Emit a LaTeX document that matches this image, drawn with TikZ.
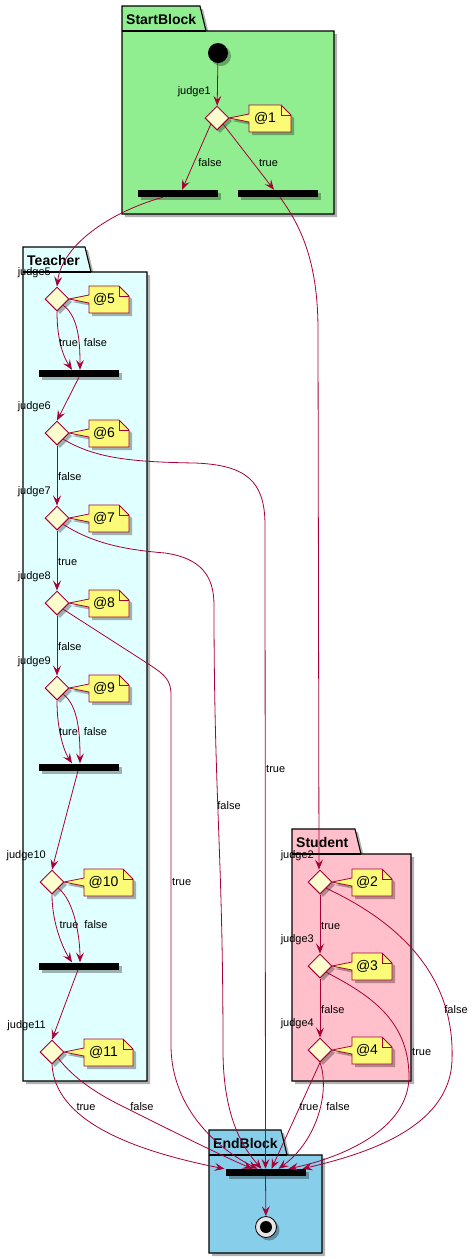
\documentclass[tikz,border=0pt]{standalone}
\usepackage{fontspec}
\setmainfont{Liberation Sans}
\usetikzlibrary{arrows.meta,shapes.geometric,shadows,calc}

\definecolor{umlred}{HTML}{A80036}
\definecolor{diamondfill}{HTML}{FEFECE}
\definecolor{notefill}{HTML}{FBFB77}
\definecolor{startgreen}{HTML}{90EE90}
\definecolor{teachercyan}{HTML}{E0FFFF}
\definecolor{studentpink}{HTML}{FFC0CB}
\definecolor{endblue}{HTML}{87CEEB}

\tikzset{
  umlshadow/.style={drop shadow={shadow xshift=3pt, shadow yshift=-3pt, fill=black, opacity=0.3}},
  pkg/.style={draw=black, line width=1.1pt},
  pkgtitle/.style={font=\fontsize{14}{16}\selectfont\bfseries, inner sep=0pt, anchor=west},
  decision/.style={shape=diamond, draw=umlred, line width=1pt, fill=diamondfill, minimum size=24pt, inner sep=0pt, umlshadow},
  note/.style={draw=umlred, line width=0.8pt, fill=notefill, umlshadow},
  notetext/.style={font=\fontsize{14}{16}\selectfont, inner sep=0pt},
  judgelabel/.style={font=\fontsize{11}{13}\selectfont, inner sep=0pt, anchor=east},
  flowlabel/.style={font=\fontsize{11}{13}\selectfont, inner sep=0pt},
  forkbar/.style={fill=black, minimum width=80pt, minimum height=7pt, inner sep=0pt, umlshadow},
  flow/.style={draw=umlred, line width=0.8pt, -{Stealth[length=10pt, width=8pt, inset=4pt]}},
}

% note with pointer: name, x, y of the judge, width, text
\newcommand{\judgenote}[5]{%
  \draw[note] (#2+32,#3-13) -- (#2+22+#4,#3-13) -- (#2+32+#4,#3-3) -- (#2+32+#4,#3+14)
    -- (#2+32,#3+14) -- (#2+32,#3+4) -- (#2+12,#3) -- (#2+32,#3-4) -- cycle;
  \draw[draw=umlred, line width=0.8pt] (#2+22+#4,#3-13) |- (#2+32+#4,#3-3);
  \node[notetext] (#1) at (#2+32+#4/2-5,#3+0.5) {#5};
}

\begin{document}
\begin{tikzpicture}[x=1pt, y=-1pt]
  \path[fill=white] (0,0) rectangle (474,1259);
  \useasboundingbox (0,0) rectangle (474,1259);

  \foreach \pkg/\pcol/\pl/\ptop/\pr/\pbot/\ptab in {StartBlock/startgreen/122/6/334/214/78,
      Teacher/teachercyan/23/247/147/1081/62, Student/studentpink/292/829/411/1081/63,
      EndBlock/endblue/209/1130/322/1253/72}{
    \draw[pkg, fill=\pcol, umlshadow] (\pl,\ptop) -- (\pl+\ptab,\ptop) -- (\pl+\ptab+6,\ptop+25)
      -- (\pr,\ptop+25) -- (\pr,\pbot) -- (\pl,\pbot) -- cycle;
    \draw[pkg] (\pl,\ptop+25) -- (\pl+\ptab+6,\ptop+25);
    \node[pkgtitle] (\pkg) at (\pl+4,\ptop+13) {\pkg};
  }

  \node[circle, fill=black, minimum size=20pt, inner sep=0pt, umlshadow] (start) at (218,53) {};
  \node[circle, draw=black, line width=0.8pt, fill=black!10, minimum size=21pt, inner sep=0pt, umlshadow,
    path picture={\fill[black] (path picture bounding box.center) circle (6);}] (stop) at (266,1227) {};

  \foreach \j/\x/\y/\w in {1/217/118/42, 5/57/299/40, 6/57/433/40, 7/57/518/40, 8/57/603/40,
      9/57/688/40, 10/52/882/49, 11/52/1052/49, 2/320/882/40, 3/320/966/40, 4/320/1050/40}{
    \judgenote{note\j}{\x}{\y}{\w}{@\j}
    \node[decision] (judge\j) at (\x,\y) {};
    \node[judgelabel] (judge\j-label) at (\x-6,\y-26) {judge\j};
  }

  \node[forkbar] (fork1f) at (178,193.5) {};
  \node[forkbar] (fork1t) at (278,193.5) {};
  \node[forkbar] (fork5) at (79,373.5) {};
  \node[forkbar] (fork9) at (79,767) {};
  \node[forkbar] (fork10) at (79,966) {};
  \node[forkbar] (forkE) at (265.5,1172.5) {};

  \draw[flow] (start) -- (judge1);
  \draw[flow] (judge1.south west) -- ($(fork1f.north)+(4,0)$);
  \draw[flow] (judge1.south east) -- ($(fork1t.north)+(-4,0)$);
  \draw[flow] ($(fork1f.south)+(-15,0)$) .. controls (110,212) and (62,245) .. (judge5.north);
  \draw[flow] ($(fork1t.south)+(2,0)$) .. controls (300,225) and (318,260) .. (318,330) -- ($(judge2.north)+(-1,0)$);

  \foreach \j/\f in {5/fork5, 9/fork9, 10/fork10}{
    \draw[flow] (judge\j.south) .. controls +(0,30) and +(-8,-12) .. ($(\f.north)+(-7,0)$);
    \draw[flow] (judge\j.south east) .. controls +(16,12) and +(0,-25) .. ($(\f.north)+(1,0)$);
  }
  \draw[flow] (fork5.south) -- (judge6.north);
  \draw[flow] ($(fork9.south)+(-1,0)$) -- (judge10.north);
  \draw[flow] ($(fork10.south)+(-1,0)$) -- (judge11.north);
  \draw[flow] (judge6.south) -- (judge7.north);
  \draw[flow] (judge7.south) -- (judge8.north);
  \draw[flow] (judge8.south) -- (judge9.north);
  \draw[flow] (judge2.south) -- (judge3.north);
  \draw[flow] (judge3.south) -- (judge4.north);

  \draw[flow] (judge6.south east) .. controls (95,458) and (130,462) .. (195,463)
    .. controls (245,465) and (265,480) .. (265,525) -- (forkE.north);
  \draw[flow] (judge7.south east) .. controls (95,545) and (130,550) .. (165,553)
    .. controls (200,558) and (214,575) .. (214,605) .. controls (214,800) and (223,850) .. (223,1050)
    .. controls (223,1120) and (245,1150) .. ($(forkE.north)+(-4,0)$);
  \draw[flow] (judge8.south east) -- (150,665) .. controls (165,675) and (171,680) .. (171,695)
    -- (171,1045) .. controls (171,1110) and (220,1150) .. ($(forkE.north)+(-8,0)$);
  \draw[flow] (judge11.south) .. controls (55,1120) and (130,1150) .. ($(forkE.north)+(-41,0)$);
  \draw[flow] (judge11.south east) .. controls (75,1080) and (100,1095) .. (120,1105)
    .. controls (170,1130) and (220,1155) .. ($(forkE.north)+(-13,0)$);
  \draw[flow] (judge2.south east) .. controls (405,925) and (455,980) .. (452,1060)
    .. controls (450,1130) and (360,1155) .. ($(forkE.north)+(37,0)$);
  \draw[flow] (judge3.south east) .. controls (370,995) and (408,1020) .. (409,1075)
    .. controls (410,1130) and (340,1158) .. ($(forkE.north)+(23,0)$);
  \draw[flow] (judge4.south) -- ($(forkE.north)+(6,0)$);
  \draw[flow] (judge4.south) .. controls (330,1090) and (318,1140) .. ($(forkE.north)+(13,0)$);
  \draw[flow] (forkE.south) -- (stop);

  \node[flowlabel] (l1f) at (210,163) {false};
  \node[flowlabel] (l1t) at (268.5,163) {true};
  \node[flowlabel] (l5t) at (68.5,343) {true};
  \node[flowlabel] (l5f) at (95.5,343) {false};
  \node[flowlabel, anchor=west] (l6f) at (58,477) {false};
  \node[flowlabel, anchor=west] (l7t) at (58,562) {true};
  \node[flowlabel, anchor=west] (l8f) at (58,647) {false};
  \node[flowlabel] (l9t) at (68.5,732) {ture};
  \node[flowlabel] (l9f) at (95.5,732) {false};
  \node[flowlabel] (l10t) at (69,925) {true};
  \node[flowlabel] (l10f) at (96,925) {false};
  \node[flowlabel, anchor=west] (l6t) at (266,769) {true};
  \node[flowlabel] (l7f) at (229,806) {false};
  \node[flowlabel, anchor=west] (l8t) at (172,882) {true};
  \node[flowlabel] (l11t) at (86,1107) {true};
  \node[flowlabel] (l11f) at (142,1107) {false};
  \node[flowlabel, anchor=west] (l2t) at (321,926) {true};
  \node[flowlabel, anchor=west] (l3f) at (321,1010) {false};
  \node[flowlabel] (l2f) at (456,1010) {false};
  \node[flowlabel, anchor=west] (l3t) at (412,1052) {true};
  \node[flowlabel] (l4t) at (309,1107) {true};
  \node[flowlabel] (l4f) at (338,1107) {false};
\end{tikzpicture}
\end{document}
